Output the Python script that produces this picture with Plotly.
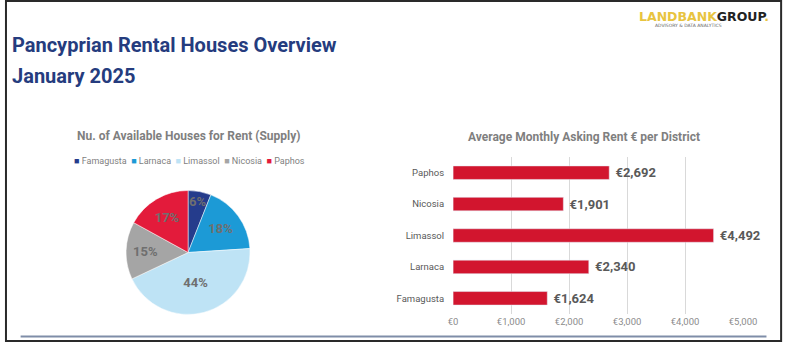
import plotly.graph_objects as go

# ---------------- data ----------------
districts = ["Famagusta", "Larnaca", "Limassol", "Nicosia", "Paphos"]
supply_share = [6, 18, 44, 15, 17]          # % of available houses for rent
avg_rent = [1624, 2340, 4492, 1901, 2692]   # average monthly asking rent (EUR)
x_ticks = [0, 1000, 2000, 3000, 4000, 5000]
x_tick_labels = [f"€{v:,}" for v in x_ticks]

pie_colors = ["#253C8C", "#1C9AD6", "#BEE3F5", "#A5A5A5", "#E31B3B"]
bar_color = "#D2152E"

W, H = 800, 343
def px(x): return x / W
def py(y): return 1 - y / H

NARROW = "Roboto, Liberation Sans, sans-serif"

fig = go.Figure()

# ---------------- pie ----------------
fig.add_trace(go.Pie(
    labels=districts, values=supply_share, sort=False, direction="clockwise", rotation=0,
    marker=dict(colors=pie_colors, line=dict(color="white", width=0.5)),
    textinfo="percent", texttemplate="%{value}%", textposition="inside",
    insidetextorientation="horizontal",
    insidetextfont=dict(family=NARROW, size=13, color="#6F6F6F", weight="bold"),
    domain=dict(x=[px(124), px(251)], y=[py(316), py(189)]),
    showlegend=False, hoverinfo="label+percent",
))

# ---------------- bars ----------------
fig.add_trace(go.Bar(
    y=districts, x=avg_rent, orientation="h", width=0.43,
    marker=dict(color=bar_color),
    texttemplate="&nbsp;€%{x:,}", textposition="outside", cliponaxis=False,
    textfont=dict(family=NARROW, size=13, color="#595959", weight="bold"),
    showlegend=False, xaxis="x", yaxis="y",
))

fig.update_layout(
    width=W, height=H, margin=dict(l=0, r=0, t=0, b=0),
    paper_bgcolor="white", plot_bgcolor="white",
    uniformtext=dict(minsize=13, mode="show"),
    xaxis=dict(domain=[px(459), px(756)], range=[0, 5000], tickmode="array",
               tickvals=x_ticks, ticktext=x_tick_labels,
               showgrid=True, gridcolor="#D9D9D9",
               gridwidth=1, zeroline=False, showline=False, ticks="",
               tickfont=dict(family=NARROW, size=9.5, color="#8C8C8C"), fixedrange=True),
    yaxis=dict(domain=[py(314), py(157)], showgrid=False, zeroline=False, showline=False,
               ticks="", ticklabelstandoff=8,
               tickfont=dict(family=NARROW, size=9.5, color="#595959"),
               categoryorder="array", categoryarray=districts, fixedrange=True),
    bargap=0.5,
)

# ---------------- texts ----------------
ann = []
ann.append(dict(text="<b>Pancyprian Rental Houses Overview</b>", x=px(5), y=py(45),
                xanchor="left", yanchor="middle",
                font=dict(family=NARROW, size=20, color="#253C7E")))
ann.append(dict(text="<b>January 2025</b>", x=px(5), y=py(76), xanchor="left", yanchor="middle",
                font=dict(family=NARROW, size=20, color="#253C7E")))
ann.append(dict(text="<b>Nu. of Available Houses for Rent (Supply)</b>", x=px(188), y=py(136),
                xanchor="center", yanchor="middle",
                font=dict(family=NARROW, size=12, color="#7F7F7F")))
ann.append(dict(text="<b>Average Monthly Asking Rent € per District</b>", x=px(593), y=py(137),
                xanchor="center", yanchor="middle",
                font=dict(family=NARROW, size=12, color="#7F7F7F")))
legend_text = "&nbsp;&nbsp;".join(
    f"<span style='color:{c}'>■</span>&nbsp;{d}" for d, c in zip(districts, pie_colors))
ann.append(dict(text=legend_text, x=px(189), y=py(161), xanchor="center", yanchor="middle",
                font=dict(family=NARROW, size=9, color="#7F7F7F")))
# logo
ann.append(dict(text="<b><span style='color:#E8C43F'>LANDBANK</span>GROUP<span style='color:#E8C43F'>.</span></b>",
                x=px(716), y=py(16), xanchor="center", yanchor="middle",
                font=dict(family="DejaVu Sans", size=12.5, color="#222222")))
ann.append(dict(text="ADVISORY &amp; DATA ANALYTICS", x=px(700), y=py(25), xanchor="center",
                yanchor="middle", font=dict(family="DejaVu Sans", size=4.5, color="#666666")))
for a in ann:
    a.update(xref="paper", yref="paper", showarrow=False)
fig.update_layout(annotations=ann)

# ---------------- frame & separator ----------------
fig.update_layout(shapes=[
    dict(type="rect", xref="paper", yref="paper", x0=px(1), x1=px(795), y0=py(341), y1=py(1),
         line=dict(color="#2A2A2A", width=2)),
    dict(type="line", xref="paper", yref="paper", x0=px(16), x1=px(780), y0=py(336.5), y1=py(336.5),
         line=dict(color="#7F8DA8", width=2)),
])

fig.write_html("out.html")
